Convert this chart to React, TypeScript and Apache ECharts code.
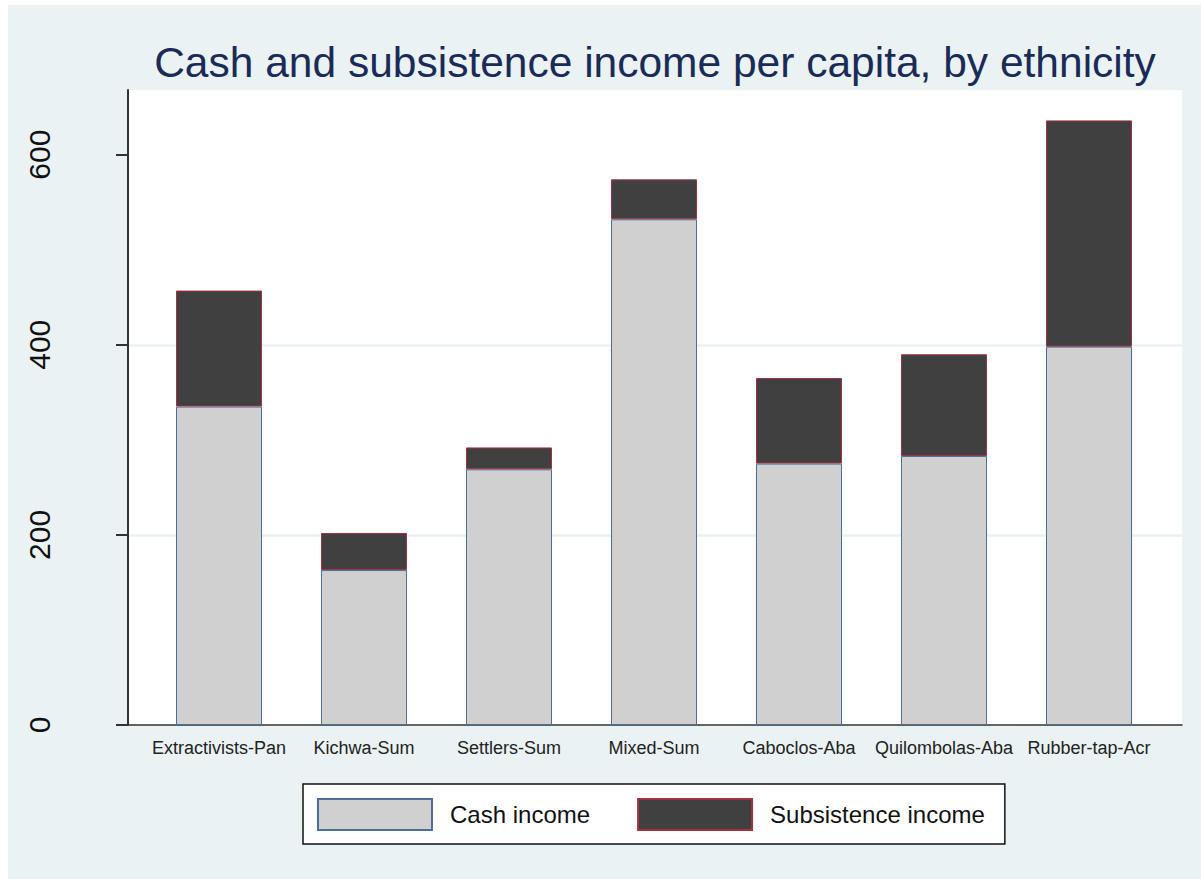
import React, { useEffect, useRef } from "react";
import * as echarts from "echarts";

const categories = [
  "Extractivists-Pan",
  "Kichwa-Sum",
  "Settlers-Sum",
  "Mixed-Sum",
  "Caboclos-Aba",
  "Quilombolas-Aba",
  "Rubber-tap-Acr",
];
const cashIncome = [335, 163, 269, 532, 275, 283, 398];
const subsistenceIncome = [122, 39, 23, 42, 90, 107, 238];
const yTicks = [0, 200, 400, 600];
const titleText = "Cash and subsistence income per capita, by ethnicity";

const FONT = "'Liberation Sans', Arial, Helvetica, sans-serif";
const Y_MAX = 668;

export default function App() {
  const ref = useRef<HTMLDivElement>(null);
  useEffect(() => {
    if (!ref.current) return;
    const chart = echarts.init(ref.current, undefined, { renderer: "svg" });
    chart.setOption({
      animation: false,
      backgroundColor: "#eaf2f3",
      textStyle: { fontFamily: FONT },
      graphic: [
        {
          type: "text",
          x: 647,
          y: 57,
          style: {
            text: titleText,
            fontSize: 42.5,
            fontFamily: FONT,
            fill: "#1a2b57",
            textAlign: "center",
            textVerticalAlign: "middle",
          },
        },
      ],
      grid: [
        {
          left: 120,
          right: 19,
          top: 85,
          bottom: 154,
          show: true,
          backgroundColor: "#ffffff",
          borderWidth: 0,
        },
        { left: 138.5, right: 39.5, top: 85, bottom: 154 },
      ],
      legend: {
        left: 295,
        top: 779,
        padding: [14, 20, 13, 14],
        itemWidth: 114,
        itemHeight: 31,
        itemGap: 47,
        backgroundColor: "#ffffff",
        borderColor: "#111111",
        borderWidth: 1.5,
        borderRadius: 0,
        icon: "rect",
        textStyle: {
          fontSize: 24,
          color: "#111111",
          fontFamily: FONT,
          padding: [0, 0, 0, 13],
        },
        data: ["Cash income", "Subsistence income"],
      },
      xAxis: [
        {
          gridIndex: 0,
          type: "value",
          min: 0,
          max: 1,
          splitLine: { show: false },
          axisTick: { show: false },
          axisLabel: { show: false },
          axisLine: { show: true, onZero: false, lineStyle: { color: "#333333", width: 1.5 } },
        },
        {
          gridIndex: 1,
          type: "category",
          data: categories,
          axisLine: { show: false },
          axisTick: { show: false },
          splitLine: { show: false },
          axisLabel: {
            fontSize: 18,
            color: "#222222",
            margin: 14,
            fontFamily: FONT,
            interval: 0,
          },
        },
      ],
      yAxis: [
        {
          gridIndex: 0,
          type: "value",
          min: 0,
          max: Y_MAX,
          axisLine: { show: true, onZero: false, lineStyle: { color: "#333333", width: 2 } },
          axisTick: {
            show: true,
            length: 12,
            customValues: yTicks,
            lineStyle: { color: "#333333", width: 2 },
          },
          axisLabel: {
            customValues: yTicks,
            rotate: 90,
            fontSize: 30,
            color: "#111111",
            margin: 74,
            fontFamily: FONT,
          },
          splitLine: {
            show: true,
            showMinLine: false,
            showMaxLine: false,
            lineStyle: { color: "#eaf2f3", width: 2.5 },
          },
        },
        {
          gridIndex: 1,
          type: "value",
          min: 0,
          max: Y_MAX,
          show: false,
          splitLine: { show: false },
        },
      ],
      series: [
        {
          name: "Cash income",
          type: "bar",
          xAxisIndex: 1,
          yAxisIndex: 1,
          stack: "income",
          barWidth: 86,
          data: cashIncome,
          itemStyle: { color: "#d0d0d0", borderColor: "#4a6f99", borderWidth: 1 },
        },
        {
          name: "Subsistence income",
          type: "bar",
          xAxisIndex: 1,
          yAxisIndex: 1,
          stack: "income",
          barWidth: 86,
          data: subsistenceIncome,
          itemStyle: { color: "#404040", borderColor: "#a3313f", borderWidth: 1 },
        },
      ],
    });
    return () => chart.dispose();
  }, []);
  return (
    <div
      ref={ref}
      style={{ position: "absolute", left: 8, top: 5, width: 1193, height: 874 }}
    />
  );
}
